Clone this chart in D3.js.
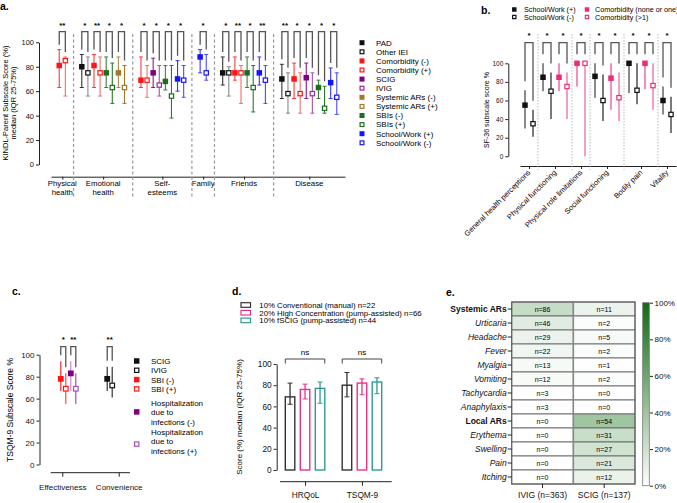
<!DOCTYPE html>
<html>
<head>
<meta charset="utf-8">
<script src="https://cdn.jsdelivr.net/npm/d3@7"></script>
<style>
  body { margin: 0; background: #fff; }
  svg { font-family: "Liberation Sans", Arial, Helvetica, sans-serif; }
</style>
</head>
<body>
<svg id="chart" width="677" height="503"></svg>
<script>
// ---------- panel a: KINDL-Parent ----------
const aCategories = [['Physical', 'health'], ['Emotional', 'health'], ['Self-', 'esteems'], ['Family'], ['Friends'], ['Disease']];
const aSeries = ['PAD', 'Other IEI', 'Comorbidity (-)', 'Comorbidity (+)', 'SCIG', 'IVIG',
  'Systemic ARs (-)', 'Systemic ARs (+)', 'SBIs (-)', 'SBIs (+)', 'School/Work (+)', 'School/Work (-)'];
// [category, series, median, q25, q75]
const aPoints = [
  [0, 2, 81, 63, 94], [0, 3, 85, 56, 88],
  [1, 0, 80, 63, 90], [1, 1, 75, 56, 88], [1, 2, 81, 63, 90], [1, 3, 75, 56, 88],
  [1, 8, 75, 63, 88], [1, 9, 63, 50, 83], [1, 6, 75, 63, 88], [1, 7, 63, 50, 81],
  [2, 2, 69, 63, 88], [2, 3, 69, 55, 81], [2, 4, 75, 63, 87], [2, 5, 65, 56, 81],
  [2, 8, 68, 61, 81], [2, 9, 56, 38, 81], [2, 10, 70, 60, 85], [2, 11, 69, 55, 81],
  [3, 10, 88, 75, 94], [3, 11, 75, 69, 90],
  [4, 0, 75, 65, 88], [4, 1, 75, 56, 80], [4, 2, 75, 69, 88], [4, 3, 75, 50, 81],
  [4, 8, 75, 63, 88], [4, 9, 63, 43, 81], [4, 10, 75, 65, 88], [4, 11, 69, 50, 81],
  [5, 0, 70, 54, 82], [5, 1, 58, 42, 75], [5, 2, 70, 54, 83], [5, 3, 58, 42, 75],
  [5, 4, 71, 54, 83], [5, 5, 58, 42, 75], [5, 8, 63, 54, 69], [5, 9, 46, 42, 64],
  [5, 10, 67, 54, 79], [5, 11, 55, 41, 75]
];
const aStars = [['**'], ['*', '**', '*', '*'], ['*', '*', '*', '*'], ['*'], ['*', '**', '*', '**'], ['**', '*', '*', '*', '*']];
const yTicks = [0, 20, 40, 60, 80, 100];

// ---------- panel b: SF-36 ----------
const bCategories = ['General health perceptions', 'Physical functioning', 'Physical role limitations',
  'Social functioning', 'Bodily pain', 'Vitality'];
const bSeries = ['School/Work (+)', 'School/Work (-)', 'Comorbidity (none or one)', 'Comorbidity (>1)'];
const bPoints = [
  [0, 0, 55, 30, 71], [0, 1, 35, 21, 50],
  [1, 0, 85, 70, 100], [1, 1, 70, 40, 90], [1, 2, 85, 70, 100], [1, 3, 75, 40, 90],
  [2, 2, 100, 75, 100], [2, 3, 100, 0, 100],
  [3, 0, 86, 63, 100], [3, 1, 60, 38, 88], [3, 2, 84, 50, 100], [3, 3, 63, 38, 90],
  [4, 0, 100, 68, 100], [4, 1, 71, 56, 100], [4, 2, 100, 72, 100], [4, 3, 76, 50, 100],
  [5, 0, 60, 45, 75], [5, 1, 45, 25, 64]
];
const bStars = [['*'], ['*', '*'], ['*'], ['*', '*'], ['*', '*'], ['*']];

// ---------- panel c: TSQM-9 ----------
const cCategories = ['Effectiveness', 'Convenience'];
const cSeries = [['SCIG'], ['IVIG'], ['SBI (-)'], ['SBI (+)'],
  ['Hospitalization', 'due to', 'infections (-)'], ['Hospitalization', 'due to', 'infections (+)']];
const cPoints = [[0, 2, 78, 67, 94], [0, 3, 69, 55, 83], [0, 4, 83, 67, 94], [0, 5, 69, 55, 83],
  [1, 0, 78, 67, 89], [1, 1, 72, 61, 89]];
const cStars = [['*', '**'], ['**']];

// ---------- panel d: bars ----------
const dCategories = ['HRQoL', 'TSQM-9'];
const dSeries = ['10% Conventional (manual) n=22', '20% High Concentration (pump-assisted) n=66', '10% fSCIG (pump-assisted) n=44'];
const dMedian = [[69, 76, 77], [80, 82, 83]];
const dLow = [[62, 67, 63], [69, 71, 72]];
const dHigh = [[82, 81, 83], [92, 86, 87]];
const dTests = ['ns', 'ns'];

// ---------- panel e: heatmap ----------
const eRows = ['Systemic ARs', 'Urticaria', 'Headache', 'Fever', 'Myalgia', 'Vomiting', 'Tachycardia',
  'Anaphylaxis', 'Local ARs', 'Erythema', 'Swelling', 'Pain', 'Itching'];
const eHeaders = ['Systemic ARs', 'Local ARs'];
const eCols = ['IVIG (n=363)', 'SCIG (n=137)'];
const eTotals = [363, 137];
const eIVIG = [86, 46, 29, 22, 13, 12, 3, 3, 0, 0, 0, 0, 0];
const eSCIG = [11, 2, 5, 2, 1, 2, 0, 0, 54, 31, 27, 21, 12];
const eScaleTicks = [0, 20, 40, 60, 80, 100];

const FONT = '"Liberation Sans", Arial, Helvetica, sans-serif';
const svg = d3.select('#chart');

function styleAxis(sel, size) {
  sel.attr('font-family', FONT);
  sel.selectAll('text').attr('font-size', size).attr('fill', '#111');
  sel.selectAll('line,path').attr('stroke', '#222');
}

function square(g, x, y, color, filled, size) {
  const s = filled ? size : size - 1.2;
  g.append('rect')
    .attr('x', x - s / 2).attr('y', y - s / 2)
    .attr('width', s).attr('height', s)
    .attr('fill', filled ? color : '#fff')
    .attr('stroke', filled ? 'none' : color)
    .attr('stroke-width', 1.2);
}

function whisker(g, x, y1, y2, color, width, cap) {
  g.append('line').attr('x1', x).attr('x2', x).attr('y1', y1).attr('y2', y2)
    .attr('stroke', color).attr('stroke-width', width);
  if (cap) {
    [y1, y2].forEach(yy => g.append('line')
      .attr('x1', x - cap / 2).attr('x2', x + cap / 2).attr('y1', yy).attr('y2', yy)
      .attr('stroke', color).attr('stroke-width', 1));
  }
}

function bracket(g, x1, x2, top, l1, l2, label, starY) {
  g.append('path')
    .attr('d', `M${x1},${l1}V${top}H${x2}V${l2}`)
    .attr('fill', 'none').attr('stroke', '#555').attr('stroke-width', 1.3);
  g.append('text').attr('x', (x1 + x2) / 2).attr('y', starY)
    .attr('text-anchor', 'middle').attr('font-size', 8).attr('font-weight', 'bold')
    .text(label);
}

function panelLabel(x, y, t) {
  svg.append('text').attr('x', x).attr('y', y).attr('font-size', 10.5)
    .attr('font-weight', 'bold').text(t);
}

// ================= panel a =================
(() => {
  const aColors = ['#111', '#111', '#ff1515', '#ff1515', '#800080', '#9a2a9a',
    '#a0782a', '#a0782a', '#1b6e1b', '#1b6e1b', '#1414ff', '#1414ff'];
  const aWhisk = ['#333', '#888', '#ff3a3a', '#f07070', '#8a1a8a', '#a555a5',
    '#b08a45', '#a0782a', '#3a803a', '#2a7a2a', '#3535ff', '#4a4aff'];
  const pad = 1.7;
  const counts = aCategories.map((c, i) => aPoints.filter(p => p[0] === i).length);
  const starts = [];
  let acc = 0;
  counts.forEach(n => { starts.push(acc); acc += n + pad; });

  const x = d3.scaleLinear().domain([0, acc]).range([51, 345]);
  const y = d3.scaleLinear().domain([0, 100]).range([164.5, 42.3]);
  const g = svg.append('g');

  panelLabel(0, 10, 'a.');

  g.append('g').attr('transform', 'translate(39,0)')
    .call(d3.axisLeft(y).tickValues(yTicks).tickSize(3).tickSizeOuter(0).tickPadding(2))
    .call(s => styleAxis(s, 7.5));

  const centers = counts.map((n, i) => starts[i] + (n + pad) / 2);
  g.append('g').attr('transform', 'translate(0,176.7)')
    .call(d3.axisBottom(x).tickValues(centers).tickFormat('').tickSize(3).tickSizeOuter(0))
    .call(s => styleAxis(s, 7.5));

  aCategories.forEach((lines, i) => {
    const t = g.append('text').attr('text-anchor', 'middle').attr('font-size', 7.8);
    lines.forEach((l, k) => t.append('tspan').attr('x', x(centers[i])).attr('y', 186 + k * 9).text(l));
  });

  starts.slice(1).forEach(s => {
    g.append('line').attr('x1', x(s)).attr('x2', x(s)).attr('y1', 34).attr('y2', 197)
      .attr('stroke', '#999').attr('stroke-width', 1.2).attr('stroke-dasharray', '3,2.5');
  });

  g.append('text').attr('transform', 'translate(8,103) rotate(-90)')
    .attr('text-anchor', 'middle').attr('font-size', 7.5)
    .call(t => {
      t.append('tspan').attr('x', 0).attr('y', 0).text('KINDL-Parent Subscale Score (%)');
      t.append('tspan').attr('x', 0).attr('y', 8).text('median (IQR 25-75%)');
    });

  aCategories.forEach((c, ci) => {
    const pts = aPoints.filter(p => p[0] === ci);
    const px = pts.map((p, k) => x(starts[ci] + pad / 2 + k + 0.5));
    pts.forEach((p, k) => {
      whisker(g, px[k], y(p[4]), y(p[3]), aWhisk[p[1]], 1.1, 4);
      square(g, px[k], y(p[2]), aColors[p[1]], p[1] % 2 === 0, 5.5);
    });
    aStars[ci].forEach((lab, j) => {
      const p1 = pts[2 * j], p2 = pts[2 * j + 1];
      bracket(g, px[2 * j], px[2 * j + 1], 31.7,
        Math.max(38, y(p1[4]) - 5), Math.max(38, y(p2[4]) - 5), lab, 27.5);
    });
  });

  const lg = g.append('g');
  aSeries.forEach((s, i) => {
    const yy = 42.7 + i * 9.1;
    square(lg, 362, yy, aColors[i], i % 2 === 0, 5);
    lg.append('text').attr('x', 376).attr('y', yy + 2.8).attr('font-size', 8).text(s);
  });
})();

// ================= panel b =================
(() => {
  const bColors = ['#111', '#111', '#ee2a7b', '#ee2a7b'];
  const bWhisk = ['#8a8a8a', '#333', '#f38dbb', '#f06aa6'];
  const pad = 0.25;
  const counts = bCategories.map((c, i) => bPoints.filter(p => p[0] === i).length);
  const starts = [];
  let acc = 0;
  counts.forEach(n => { starts.push(acc); acc += n + pad; });

  const x = d3.scaleLinear().domain([0, acc]).range([520, 676]);
  const y = d3.scaleLinear().domain([0, 100]).range([156.3, 63.3]);
  const g = svg.append('g');

  panelLabel(481, 14, 'b.');

  g.append('g').attr('transform', 'translate(508.3,0)')
    .call(d3.axisLeft(y).tickValues(yTicks).tickSize(3).tickSizeOuter(0).tickPadding(2))
    .call(s => styleAxis(s, 6.5));

  const centers = counts.map((n, i) => starts[i] + (n + pad) / 2);
  g.append('g').attr('transform', 'translate(0,166)')
    .call(d3.axisBottom(x).tickValues(centers).tickFormat('').tickSize(3).tickSizeOuter(0))
    .call(s => styleAxis(s, 7));

  bCategories.forEach((c, i) => {
    g.append('text').attr('text-anchor', 'end').attr('font-size', 7.5)
      .attr('transform', `translate(${x(centers[i]) + 2},173) rotate(-45)`).text(c);
  });

  starts.slice(1).forEach(s => {
    g.append('line').attr('x1', x(s)).attr('x2', x(s)).attr('y1', 34).attr('y2', 170)
      .attr('stroke', '#aaa').attr('stroke-width', 0.8).attr('stroke-dasharray', '1.5,1.5');
  });

  g.append('text').attr('transform', 'translate(489,110) rotate(-90)')
    .attr('text-anchor', 'middle').attr('font-size', 7).text('SF-36 subscale score %');

  bCategories.forEach((c, ci) => {
    const pts = bPoints.filter(p => p[0] === ci);
    const px = pts.map((p, k) => x(starts[ci] + pad / 2 + k + 0.5));
    pts.forEach((p, k) => {
      const filled = p[1] % 2 === 0;
      whisker(g, px[k], y(p[4]), y(p[3]), bWhisk[p[1]], filled ? 2 : 1.3, 0);
      square(g, px[k], y(p[2]), bColors[p[1]], filled, 5.5);
    });
    bStars[ci].forEach((lab, j) => {
      bracket(g, px[2 * j], px[2 * j + 1], 42.7,
        y(pts[2 * j][4]) - 9, y(pts[2 * j + 1][4]) - 9, lab, 37.5);
    });
  });

  const lg = g.append('g');
  bSeries.forEach((s, i) => {
    const col = i < 2 ? 0 : 1;
    const row = i % 2;
    const yy = 9.5 + row * 7.5;
    square(lg, col ? 587 : 514.3, yy, bColors[i], i % 2 === 0, 4.5);
    lg.append('text').attr('x', col ? 595 : 524).attr('y', yy + 2.5).attr('font-size', 7.2).text(s);
  });
})();

// ================= panel c =================
(() => {
  const cColors = ['#111', '#111', '#ff1515', '#ff1515', '#800080', '#a552b5'];
  const cWhisk = ['#333', '#333', '#ff2a2a', '#ff4a4a', '#c48ad0', '#a552b5'];
  const x = d3.scalePoint().domain(cCategories).range([51, 130]).padding(0.2);
  const y = d3.scaleLinear().domain([0, 100]).range([464.5, 354.7]);
  const off = d3.scalePoint().domain(d3.range(cSeries.length)).range([-12.5, 12.5]);
  const g = svg.append('g');

  panelLabel(12, 295, 'c.');

  g.append('g').attr('transform', 'translate(39.5,0)')
    .call(d3.axisLeft(y).tickValues(yTicks).tickSize(3).tickSizeOuter(0).tickPadding(2))
    .call(s => styleAxis(s, 8));

  g.append('g').attr('transform', 'translate(0,472.7)')
    .call(d3.axisBottom(x).tickSize(4).tickSizeOuter(0).tickPadding(8))
    .call(s => styleAxis(s, 8))
    .call(s => s.select('.domain').attr('d', 'M50.7,0H130'));

  g.append('text').attr('transform', 'translate(13,410) rotate(-90)')
    .attr('text-anchor', 'middle').attr('font-size', 8.5).text('TSQM-9 Subscale Score %');

  cCategories.forEach((c, ci) => {
    const pts = cPoints.filter(p => p[0] === ci);
    const px = pts.map(p => x(c) + off(p[1]) + 1);
    pts.forEach((p, k) => {
      whisker(g, px[k], y(p[4]), y(p[3]), cWhisk[p[1]], 1.2, 0);
      square(g, px[k], y(p[2]), cColors[p[1]], p[1] % 2 === 0, 5.8);
    });
    cStars[ci].forEach((lab, j) => {
      bracket(g, px[2 * j], px[2 * j + 1], 346.7,
        y(pts[2 * j][4]) - 6, y(pts[2 * j + 1][4]) - 6, lab, 341.5);
    });
  });

  const lg = g.append('g');
  let yy = 361;
  cSeries.forEach((lines, i) => {
    const mid = lines.length > 1 ? yy + 9.2 * (lines.length - 1) / 2 + (i === 5 ? 3 : 0) : yy;
    square(lg, 136.7, mid, cColors[i], i % 2 === 0, 5.5);
    const t = lg.append('text').attr('font-size', 8);
    lines.forEach((l, k) => t.append('tspan').attr('x', 151).attr('y', yy + 3 + k * 9.4).text(l));
    yy += lines.length > 1 ? 9.4 * lines.length + 1 : 9.3;
    if (i === 3) yy += 4.5;
  });
})();

// ================= panel d =================
(() => {
  const dColors = ['#333', '#e8338a', '#2e9c94'];
  const x = d3.scalePoint().domain(dCategories).range([280, 387]).padding(0.44);
  const inner = d3.scalePoint().domain(d3.range(dSeries.length)).range([-15, 15]);
  const y = d3.scaleLinear().domain([0, 100]).range([470, 364]);
  const bw = 9.5;
  const g = svg.append('g');

  panelLabel(232, 295, 'd.');

  g.append('g').attr('transform', 'translate(276.7,0)')
    .call(d3.axisLeft(y).tickValues(yTicks).tickSize(3).tickSizeOuter(0).tickPadding(2))
    .call(s => styleAxis(s, 8.3));

  g.append('g').attr('transform', 'translate(0,481.7)')
    .call(d3.axisBottom(x).tickSize(4).tickSizeOuter(0).tickPadding(6))
    .call(s => styleAxis(s, 8.3))
    .call(s => s.select('.domain').attr('d', 'M280,0H391.7'));

  g.append('text').attr('transform', 'translate(242,417) rotate(-90)')
    .attr('text-anchor', 'middle').attr('font-size', 8).text('Score (%) median (IQR 25-75%)');

  dCategories.forEach((c, ci) => {
    dSeries.forEach((s, si) => {
      const cx = x(c) + inner(si);
      g.append('rect').attr('x', cx - bw / 2).attr('y', y(dMedian[ci][si]))
        .attr('width', bw).attr('height', y(0) - y(dMedian[ci][si]))
        .attr('fill', '#fff').attr('stroke', dColors[si]).attr('stroke-width', 1.4);
      whisker(g, cx, y(dHigh[ci][si]), y(dLow[ci][si]), dColors[si], 1.3, 5);
    });
    const x1 = x(c) + inner(0) - bw / 2, x2 = x(c) + inner(2) + bw / 2;
    g.append('path').attr('d', `M${x1},363.5V359H${x2}V363.5`)
      .attr('fill', 'none').attr('stroke', '#444').attr('stroke-width', 1);
    g.append('text').attr('x', (x1 + x2) / 2).attr('y', 355).attr('text-anchor', 'middle')
      .attr('font-size', 8).text(dTests[ci]);
  });

  const lg = g.append('g');
  dSeries.forEach((s, i) => {
    const yy = 305 + i * 7.7;
    lg.append('rect').attr('x', 241).attr('y', yy - 2.3).attr('width', 9.5).attr('height', 4.6)
      .attr('fill', '#fff').attr('stroke', dColors[i]).attr('stroke-width', 1.2);
    lg.append('text').attr('x', 259.3).attr('y', yy + 2.8).attr('font-size', 7.8).text(s);
  });
})();

// ================= panel e =================
(() => {
  const y = d3.scaleBand().domain(eRows).range([302, 484]);
  const x = d3.scaleBand().domain(eCols).range([511.7, 635]);
  const color = d3.scaleLinear().domain([0, 1]).range(['#ffffff', '#0e6b12']);
  const cols = [eIVIG, eSCIG];
  const g = svg.append('g');

  panelLabel(446, 296, 'e.');

  cols.forEach((vals, ci) => {
    vals.forEach((v, ri) => {
      g.append('rect').attr('x', x(eCols[ci])).attr('y', y(eRows[ri]))
        .attr('width', x.bandwidth()).attr('height', y.bandwidth())
        .attr('fill', color(v / eTotals[ci])).attr('stroke', '#666').attr('stroke-width', 0.9);
      g.append('text').attr('x', x(eCols[ci]) + x.bandwidth() / 2).attr('y', y(eRows[ri]) + y.bandwidth() / 2 + 2.5)
        .attr('text-anchor', 'middle').attr('font-size', 7).text('n=' + v);
    });
  });
  g.append('rect').attr('x', 511.7).attr('y', 302).attr('width', 635 - 511.7).attr('height', 182)
    .attr('fill', 'none').attr('stroke', '#666').attr('stroke-width', 1.2);
  g.append('line').attr('x1', x(eCols[1])).attr('x2', x(eCols[1])).attr('y1', 302).attr('y2', 484)
    .attr('stroke', '#888').attr('stroke-width', 1.5);

  g.append('g').attr('transform', 'translate(511.7,0)')
    .call(d3.axisLeft(y).tickSize(4).tickSizeOuter(0).tickPadding(1))
    .call(s => styleAxis(s, 8.5))
    .call(s => s.select('.domain').remove())
    .call(s => s.selectAll('.tick text')
      .attr('font-style', d => eHeaders.includes(d) ? 'normal' : 'italic')
      .attr('font-weight', d => eHeaders.includes(d) ? 'bold' : 'normal'));

  g.append('g').attr('transform', 'translate(0,484)')
    .call(d3.axisBottom(x).tickSize(4).tickSizeOuter(0).tickPadding(3.5))
    .call(s => styleAxis(s, 8.5))
    .call(s => s.select('.domain').remove());

  const cy = d3.scaleLinear().domain([0, 100]).range([485.7, 302.7]);
  const grad = svg.append('defs').append('linearGradient').attr('id', 'eGrad')
    .attr('x1', 0).attr('x2', 0).attr('y1', 1).attr('y2', 0);
  grad.append('stop').attr('offset', '0%').attr('stop-color', color(0));
  grad.append('stop').attr('offset', '100%').attr('stop-color', color(1));
  g.append('rect').attr('x', 642.7).attr('y', 302.7).attr('width', 6.6).attr('height', 183)
    .attr('fill', 'url(#eGrad)').attr('stroke', '#777').attr('stroke-width', 0.8);
  g.append('g').attr('transform', 'translate(650,0)')
    .call(d3.axisRight(cy).tickValues(eScaleTicks).tickFormat(d => d + '%').tickSize(3).tickSizeOuter(0).tickPadding(1.5))
    .call(s => styleAxis(s, 8))
    .call(s => s.select('.domain').remove());
})();
</script>
</body>
</html>
